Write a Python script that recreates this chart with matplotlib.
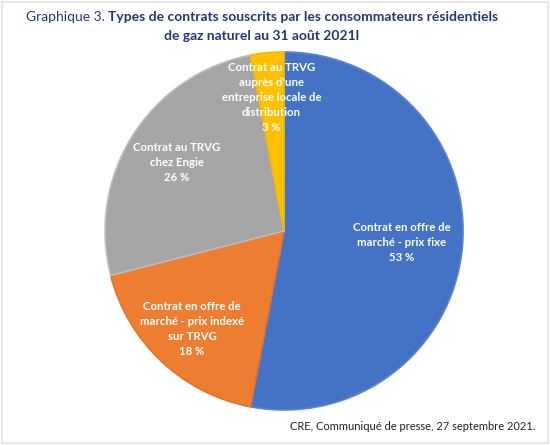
import matplotlib.pyplot as plt
from matplotlib.patches import Rectangle
import numpy as np

# Données
categories = [
    "Contrat en offre de\nmarché - prix fixe",
    "Contrat en offre de\nmarché - prix indexé\nsur TRVG",
    "Contrat au TRVG\nchez Engie",
    "Contrat au TRVG\nauprès d'une\nentreprise locale de\ndistribution",
]
parts = [53, 18, 26, 3]
couleurs = ["#4472C4", "#ED7D31", "#A5A5A5", "#FFC000"]
bords = ["#5B85CF", "#E07428", "#BDBDBD", "#F5B800"]
distances = [0.66, 0.75, 0.71, 0.75]

plt.rcParams["font.family"] = ["Lato", "DejaVu Sans"]

fig = plt.figure(figsize=(5.5, 4.45), dpi=100)
fig.patches.append(Rectangle((0.004, 0.004), 0.992, 0.992, transform=fig.transFigure,
                             fill=False, edgecolor="#E6E6E6", linewidth=1.5))

ax = fig.add_axes([0.191, 0.0787, 0.651, 0.8045])
wedges, _ = ax.pie(parts, colors=couleurs, startangle=90, counterclock=False,
                   wedgeprops=dict(linewidth=1.2))
for w, b in zip(wedges, bords):
    w.set_edgecolor(b)
ax.set_xlim(-1, 1)
ax.set_ylim(-1, 1)
ax.set_aspect("equal")

# Étiquettes au milieu de chaque part
for w, cat, p, d in zip(wedges, categories, parts, distances):
    ang = np.deg2rad((w.theta1 + w.theta2) / 2)
    ax.text(d * np.cos(ang), d * np.sin(ang), f"{cat}\n{p} %", ha="center", va="center",
            color="white", fontsize=8.2, fontweight="bold", linespacing=1.45)

# Titre : partie normale + partie en gras
titre_col = "#25357A"
cx = 262 / 550
fig.canvas.draw()
r = fig.canvas.get_renderer()
t1 = fig.text(0, 0, "Graphique 3. ", fontsize=10, color=titre_col)
t2 = fig.text(0, 0, "Types de contrats souscrits par les consommateurs résidentiels",
              fontsize=10, color=titre_col, fontweight="bold")
w1 = t1.get_window_extent(r).width / fig.bbox.width
w2 = t2.get_window_extent(r).width / fig.bbox.width
x0 = cx - (w1 + w2) / 2
y1 = 1 - 17 / 445
t1.set_position((x0, y1))
t1.set_va("center")
t2.set_position((x0 + w1, y1))
t2.set_va("center")
fig.text(cx, 1 - 36 / 445, "de gaz naturel au 31 août 2021l", fontsize=10, color=titre_col,
         fontweight="bold", ha="center", va="center")

fig.text(535 / 550, 1 - 427 / 445, "CRE, Communiqué de presse, 27 septembre 2021.",
         fontsize=8, color="#222222", ha="right", va="center")

fig.savefig("out.png", dpi=100)
